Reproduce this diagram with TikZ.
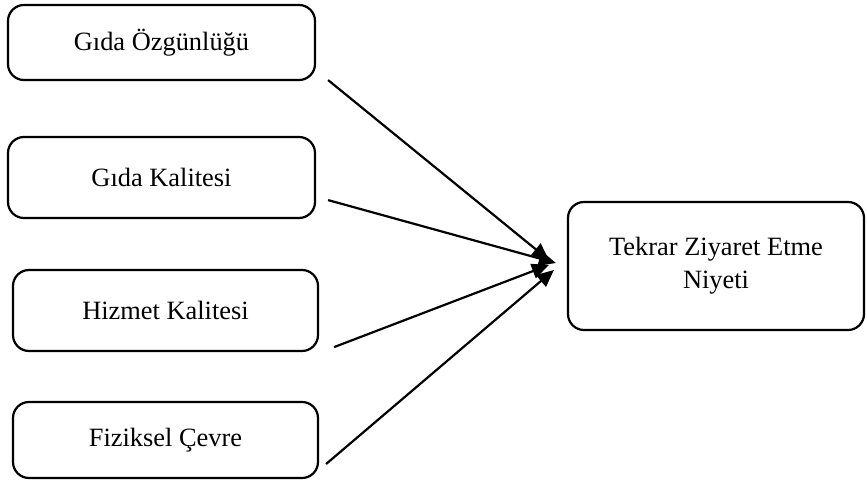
\documentclass[tikz,border=0pt]{standalone}
\usepackage{fontspec}
\setmainfont{Liberation Serif}
\usetikzlibrary{arrows.meta,calc}

\begin{document}
\begin{tikzpicture}[x=0.5pt,y=-0.5pt,>={Triangle[length=8.5pt,width=7.5pt]},
    factor/.style={draw,line width=1.1pt,rounded corners=8pt,align=center,
        font=\fontsize{13.2}{16.5}\selectfont,inner sep=0pt},
    effect/.style={->,line width=1.1pt}]
    % page size
    \useasboundingbox (0,0) rectangle (867,485);

    % four factors on the left
    \node[factor,minimum width=153.5pt,minimum height=37.5pt] (ozgun) at (161.5,42.5) {Gıda Özgünlüğü};
    \node[factor,minimum width=153.5pt,minimum height=40.5pt] (gida) at (161.5,177.5) {Gıda Kalitesi};
    \node[factor,minimum width=152.5pt,minimum height=40.5pt] (hizmet) at (165.5,310.5) {Hizmet Kalitesi};
    \node[factor,minimum width=152.5pt,minimum height=38pt] (cevre) at (165.5,440) {Fiziksel Çevre};

    % outcome on the right
    \node[factor,minimum width=148pt,minimum height=64pt] (niyet) at (716,266) {Tekrar Ziyaret Etme\\Niyeti};

    % arrows into the outcome
    \draw[effect] ($(ozgun.south east)+(12,-1)$) -- ($(niyet.west)+(-18,-6)$);
    \draw[effect] ($(gida.south east)+(12,-19)$) -- ($(niyet.west)+(-11,-3)$);
    \draw[effect] ($(hizmet.south east)+(15,-5)$) -- ($(niyet.west)+(-18,-1)$);
    \draw[effect] ($(cevre.east)+(7,24)$) -- ($(niyet.west)+(-13,4)$);
\end{tikzpicture}
\end{document}
